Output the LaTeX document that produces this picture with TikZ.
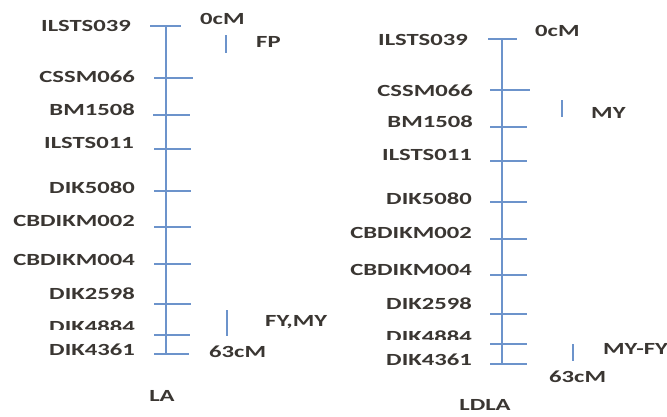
\documentclass[tikz,border=0pt]{standalone}
\usepackage{fontspec}
\setmainfont{Carlito}
\newfontfamily\labfont[FakeStretch=1.45]{Carlito}
\definecolor{axisblue}{HTML}{6C93CB}
\definecolor{labgray}{HTML}{3A3632}
\begin{document}
\begin{tikzpicture}[x=1pt,y=-1pt,
  axisline/.style={draw=axisblue,line width=1.6pt},
  tickline/.style={draw=axisblue,line width=1.4pt},
  qtlbar/.style={draw=axisblue,line width=1.6pt},
  marker/.style={font=\labfont\bfseries\fontsize{17}{19}\selectfont,text=labgray,inner sep=0pt,anchor=mid east},
  note/.style={font=\labfont\bfseries\fontsize{17}{19}\selectfont,text=labgray,inner sep=0pt,anchor=mid west},
  title/.style={font=\labfont\bfseries\fontsize{17}{19}\selectfont,text=labgray,inner sep=0pt,anchor=mid}]
\useasboundingbox (0,0) rectangle (667,416);
\fill[white] (0,0) rectangle (667,416);

% ---------- LA ----------
\coordinate (lat) at (166,26);
\coordinate (lab) at (166,355);
\draw[axisline] (lat) -- (lab);
\foreach \n/\y/\xa/\xb in {1/26/150/181, 2/78/154/193, 3/115/153/190, 4/149/154/191, 5/191/154/191,
    6/227/154/191, 7/264/154/191, 8/304/154/191, 9/335/154/190, 10/354/154/189}{
  \coordinate (lta\n) at (\xa,\y);
  \coordinate (ltb\n) at (\xb,\y);
  \draw[tickline] (lta\n) -- (ltb\n);
}
\node[marker] (lm1) at (131,29) {ILSTS039};
\node[marker] (lm2) at (135,80) {CSSM066};
\node[marker] (lm3) at (135,113) {BM1508};
\node[marker] (lm4) at (134,146) {ILSTS011};
\node[marker] (lm5) at (135,191) {DIK5080};
\node[marker] (lm6) at (135,224) {CBDIKM002};
\node[marker] (lm7) at (135,263) {CBDIKM004};
\node[marker] (lm8) at (135,297) {DIK2598};
\begin{scope}
  \clip (0,300) rectangle (150,329.5);
  \node[marker] (lm9) at (135,330) {DIK4884};
\end{scope}
\node[marker] (lm10) at (135,353) {DIK4361};
\node[note] (l0) at (200,22) {0cM};
\node[note] (l63) at (209,355) {63cM};
\coordinate (lq1a) at (226,35);
\coordinate (lq1b) at (226,53);
\draw[qtlbar] (lq1a) -- (lq1b);
\node[note] (lfp) at (256,45) {FP};
\coordinate (lq2a) at (227,310);
\coordinate (lq2b) at (227,336);
\draw[qtlbar] (lq2a) -- (lq2b);
\node[note] (lfy) at (265,324) {FY,MY};
\node[title] (la) at (162,399) {LA};

% ---------- LDLA ----------
\coordinate (rat) at (502,39);
\coordinate (rab) at (502,364);
\draw[axisline] (rat) -- (rab);
\foreach \n/\y/\xa/\xb in {1/39/488/517, 2/90/490/530, 3/127/490/527, 4/161/490/527, 5/202/490/527,
    6/239/490/527, 7/275/490/527, 8/314/490/527, 9/344/490/527, 10/364/490/527}{
  \coordinate (rta\n) at (\xa,\y);
  \coordinate (rtb\n) at (\xb,\y);
  \draw[tickline] (rta\n) -- (rtb\n);
}
\node[marker] (rm1) at (468,43) {ILSTS039};
\node[marker] (rm2) at (473,94) {CSSM066};
\node[marker] (rm3) at (473,125) {BM1508};
\node[marker] (rm4) at (472,158) {ILSTS011};
\node[marker] (rm5) at (472,202) {DIK5080};
\node[marker] (rm6) at (472,236) {CBDIKM002};
\node[marker] (rm7) at (472,273) {CBDIKM004};
\node[marker] (rm8) at (472,307) {DIK2598};
\begin{scope}
  \clip (300,320) rectangle (486,339.5);
  \node[marker] (rm9) at (472,340) {DIK4884};
\end{scope}
\node[marker] (rm10) at (472,363) {DIK4361};
\node[note] (r0) at (535,34) {0cM};
\node[note] (r63) at (549,380) {63cM};
\coordinate (rq1a) at (562,100);
\coordinate (rq1b) at (562,117);
\draw[qtlbar] (rq1a) -- (rq1b);
\node[note] (rmy) at (591,116) {MY};
\coordinate (rq2a) at (573,344);
\coordinate (rq2b) at (573,361);
\draw[qtlbar] (rq2a) -- (rq2b);
\node[note] (rmyfy) at (603,352) {MY-FY};
\node[title] (ldla) at (485,408) {LDLA};
\end{tikzpicture}
\end{document}
